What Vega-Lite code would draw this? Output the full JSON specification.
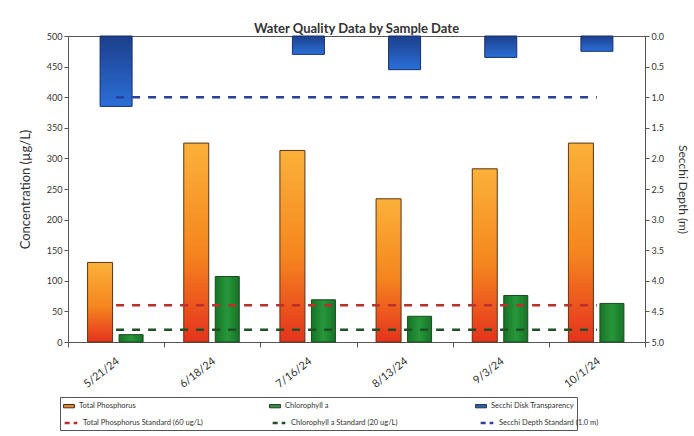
{
  "$schema": "https://vega.github.io/schema/vega-lite/v6.json",
  "width": 577,
  "height": 306,
  "autosize": {"type": "none"},
  "padding": {"left": 68, "top": 36, "right": 49, "bottom": 94},
  "background": "white",
  "title": {"text": "Water Quality Data by Sample Date", "font": "Lato", "fontSize": 13, "fontWeight": "bold", "color": "#333", "anchor": "middle", "offset": -4},
  "config": {
    "font": "Lato",
    "view": {"stroke": "#555", "strokeWidth": 1},
    "axis": {"labelFont": "Lato", "titleFont": "Lato", "labelColor": "#333", "titleColor": "#333", "domainColor": "#555", "tickColor": "#555", "grid": false},
    "axisY": {"tickCount": 10, "labelOverlap": false, "labelFontSize": 9, "tickSize": 4},
    "legend": {"labelFont": "Lato", "labelFontSize": 7.5, "labelColor": "#333"}
  },
  "data": {"values": [
    {"date": "5/21/24", "tp": 130, "chl": 12, "secchi": 1.15, "tp_std": 60, "chl_std": 20, "secchi_std": 1.0},
    {"date": "6/18/24", "tp": 325, "chl": 107, "secchi": null, "tp_std": 60, "chl_std": 20, "secchi_std": 1.0},
    {"date": "7/16/24", "tp": 313, "chl": 69, "secchi": 0.3, "tp_std": 60, "chl_std": 20, "secchi_std": 1.0},
    {"date": "8/13/24", "tp": 234, "chl": 42, "secchi": 0.55, "tp_std": 60, "chl_std": 20, "secchi_std": 1.0},
    {"date": "9/3/24", "tp": 283, "chl": 76, "secchi": 0.35, "tp_std": 60, "chl_std": 20, "secchi_std": 1.0},
    {"date": "10/1/24", "tp": 325, "chl": 63, "secchi": 0.25, "tp_std": 60, "chl_std": 20, "secchi_std": 1.0}
  ]},
  "layer": [
    {
      "layer": [
        {
          "mark": {"type": "bar", "width": 25, "xOffset": -16, "strokeWidth": 1, "stroke": "#5a3418",
            "fill": {"gradient": "linear", "x1": 0, "y1": 0, "x2": 0, "y2": 1, "stops": [
              {"offset": 0, "color": "#FBB13A"}, {"offset": 0.55, "color": "#F5861F"}, {"offset": 1, "color": "#E5321D"}]}},
          "encoding": {
            "x": {"field": "date", "type": "nominal", "sort": null, "scale": {"paddingInner": 0, "paddingOuter": 0},
              "axis": {"title": null, "labelAngle": -38, "labelFontSize": 11, "labelPadding": 8, "tickBand": "extent", "tickSize": 5, "labelOffset": -2}},
            "y": {"field": "tp", "type": "quantitative", "scale": {"domain": [0, 500]},
              "axis": {"title": "Concentration (µg/L)", "titleFontSize": 13, "titleFontWeight": "normal", "titlePadding": 14}}
          }
        },
        {
          "mark": {"type": "bar", "width": 24, "xOffset": 15, "strokeWidth": 1, "stroke": "#1b4a22",
            "fill": {"gradient": "linear", "x1": 0, "y1": 0, "x2": 1, "y2": 0, "stops": [
              {"offset": 0, "color": "#177326"}, {"offset": 0.5, "color": "#26973A"}, {"offset": 1, "color": "#177326"}]}},
          "encoding": {
            "x": {"field": "date", "type": "nominal", "sort": null},
            "y": {"field": "chl", "type": "quantitative"}
          }
        },
        {
          "mark": {"type": "bar", "opacity": 0, "width": 1},
          "encoding": {
            "x": {"field": "date", "type": "nominal", "sort": null},
            "y": {"field": "tp", "type": "quantitative"},
            "fill": {"datum": "Total Phosphorus",
              "scale": {"domain": ["Total Phosphorus", "Chlorophyll a", "Secchi Disk Transparency"], "range": ["#F5861F", "#26973A", "#245FC4"]},
              "legend": {
                "title": " ", "titleOrient": "bottom", "titleFontSize": 15, "titlePadding": 2,
                "orient": "none", "legendX": -8, "legendY": 361, "direction": "horizontal", "columns": 3,
                "gridAlign": "all", "columnPadding": 105, "padding": 3, "strokeColor": "#555",
                "symbolType": "M-1,-0.3H1V0.3H-1Z", "symbolSize": 120, "symbolOpacity": 1, "symbolStrokeColor": "#333", "symbolStrokeWidth": 1
              }
            }
          }
        },
        {
          "mark": {"type": "line", "strokeDash": [8, 8], "strokeWidth": 2.5},
          "encoding": {
            "x": {"field": "date", "type": "nominal", "sort": null},
            "y": {"field": "tp_std", "type": "quantitative"},
            "stroke": {"datum": "Total Phosphorus Standard (60 ug/L)",
              "scale": {"domain": ["Total Phosphorus Standard (60 ug/L)", "Chlorophyll a Standard (20 ug/L)", "Secchi Depth Standard (1.0 m)"], "range": ["#B8322A", "#1E4F25", "#2A3F9E"]},
              "legend": {
                "title": null, "orient": "none", "legendX": -8, "legendY": 376, "direction": "horizontal", "columns": 3,
                "gridAlign": "all", "columnPadding": 64, "padding": 3,
                "symbolType": "stroke", "symbolSize": 160, "symbolDash": [5, 4], "symbolStrokeWidth": 2.5
              }
            }
          }
        },
        {
          "mark": {"type": "line", "strokeDash": [8, 8], "strokeWidth": 2.5},
          "encoding": {
            "x": {"field": "date", "type": "nominal", "sort": null},
            "y": {"field": "chl_std", "type": "quantitative"},
            "stroke": {"datum": "Chlorophyll a Standard (20 ug/L)"}
          }
        }
      ]
    },
    {
      "layer": [
        {
          "mark": {"type": "bar", "width": 32, "strokeWidth": 1, "stroke": "#162f6b",
            "fill": {"gradient": "linear", "x1": 0, "y1": 0, "x2": 0, "y2": 1, "stops": [
              {"offset": 0, "color": "#1C3F8C"}, {"offset": 1, "color": "#2B6FD8"}]}},
          "encoding": {
            "x": {"field": "date", "type": "nominal", "sort": null},
            "y": {"field": "secchi", "type": "quantitative", "scale": {"domain": [0, 5], "reverse": true},
              "axis": {"orient": "right", "title": "Secchi Depth (m)", "titleFontSize": 12, "titleFontWeight": "normal", "titlePadding": 12, "format": ".1f"}}
          }
        },
        {
          "mark": {"type": "line", "strokeDash": [8, 8], "strokeWidth": 2.5},
          "encoding": {
            "x": {"field": "date", "type": "nominal", "sort": null},
            "y": {"field": "secchi_std", "type": "quantitative"},
            "stroke": {"datum": "Secchi Depth Standard (1.0 m)"}
          }
        }
      ]
    }
  ],
  "resolve": {"scale": {"y": "independent"}}
}
